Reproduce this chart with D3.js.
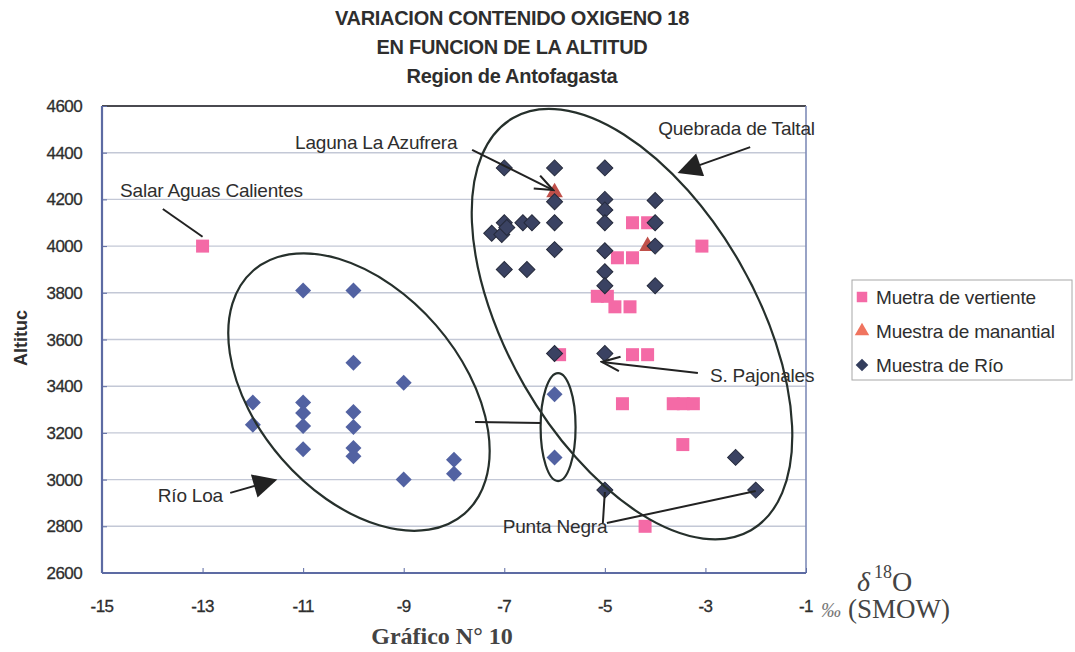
<!DOCTYPE html>
<html>
<head>
<meta charset="utf-8">
<script src="https://cdn.jsdelivr.net/npm/d3@7"></script>
<style>
  body { margin: 0; background: #fff; }
  svg { display: block; }
  text { font-family: "Liberation Sans", Arial, sans-serif; fill: #2e2e2e; }
  .serif { font-family: "Liberation Serif", "Times New Roman", serif; }
  .tick-label { stroke: #2e2e2e; stroke-width: 0.3px; }
</style>
</head>
<body>
<div id="chart"></div>
<script>
'use strict';

// tick values
var xTicks = [-15, -13, -11, -9, -7, -5, -3, -1];
var yTicks = [2600, 2800, 3000, 3200, 3400, 3600, 3800, 4000, 4200, 4400, 4600];

// series: [delta18O, altitud]
var vertiente = [
    [-13, 4000], [-4.45, 4100], [-4.15, 4100], [-3.07, 4000],
    [-4.75, 3950], [-4.45, 3950], [-5.15, 3785], [-4.95, 3785],
    [-4.8, 3740], [-4.5, 3740], [-5.9, 3535], [-4.45, 3535], [-4.15, 3535],
    [-4.65, 3325], [-3.64, 3325], [-3.44, 3325], [-3.24, 3325],
    [-3.45, 3150], [-4.2, 2800]
];
var manantial = [[-6, 4230], [-4.15, 4000]];
var rio = [
    [-7, 4335], [-6, 4335], [-5, 4335],
    [-6, 4190], [-5, 4200], [-5, 4155], [-5, 4100],
    [-4, 4195], [-4, 4100], [-4, 4000], [-4, 3830],
    [-7, 4100], [-7.25, 4055], [-7.05, 4050], [-6.95, 4080],
    [-6.63, 4100], [-6.45, 4100], [-6, 4100],
    [-6, 3985], [-5, 3980], [-5, 3890], [-5, 3830],
    [-7, 3900], [-6.55, 3900], [-6, 3540], [-5, 3540],
    [-2.4, 3095], [-2, 2955], [-5, 2955]
];
var rioLoa = [
    [-11, 3810], [-10, 3810], [-10, 3500], [-9, 3415],
    [-12, 3330], [-12, 3235], [-11, 3330], [-11, 3285], [-11, 3230], [-11, 3130],
    [-10, 3290], [-10, 3225], [-10, 3135], [-10, 3100],
    [-9, 3000], [-8, 3085], [-8, 3025], [-6, 3365], [-6, 3095]
];

// annotations (data coordinates)
var labels = [
    {text: "Salar Aguas Calientes", x: -14.64, y: 4210},
    {text: "Laguna La Azufrera", x: -11.16, y: 4416},
    {text: "Quebrada de Taltal", x: -3.94, y: 4476},
    {text: "Río Loa", x: -13.89, y: 2904},
    {text: "S. Pajonales", x: -2.91, y: 3418},
    {text: "Punta Negra", x: -7.03, y: 2771}
];
var pointers = [
    {from: [-13.79, 4159], to: [-13.0, 4040], head: "none"},
    {from: [-7.64, 4412], to: [-6.03, 4240], head: "open"},
    {from: [-2.11, 4424], to: [-3.51, 4317], head: "solid"},
    {from: [-12.45, 2943], to: [-11.56, 2998], head: "solid"},
    {from: [-3.15, 3457], to: [-5.06, 3504], head: "open"},
    {from: [-5.04, 2814], to: [-5.0, 2947], head: "none"},
    {from: [-4.96, 2814], to: [-2.0, 2951], head: "none"},
    {from: [-7.58, 3247], to: [-6.27, 3242], head: "none"}
];
var ellipses = [
    {cx: -9.89, cy: 3375, rx: 161, ry: 102, angle: 49},
    {cx: -4.46, cy: 3666, rx: 238, ry: 124, angle: 60},
    {cx: -5.93, cy: 3225, rx: 17.5, ry: 54, angle: 0}
];

var legendItems = [
    {name: "Muetra de vertiente", type: "square", color: "#f46aa6"},
    {name: "Muestra de manantial", type: "triangle", color: "#f0745f"},
    {name: "Muestra de Río", type: "diamond", color: "#333d5c"}
];

var W = 1075, H = 652;
var plot = {left: 102, right: 806, top: 106, bottom: 573};

var svg = d3.select("#chart").append("svg")
    .attr("width", W)
    .attr("height", H);

var defs = svg.append("defs");
defs.append("marker")
    .attr("id", "solidHead")
    .attr("viewBox", "0 0 10 10")
    .attr("refX", 9).attr("refY", 5)
    .attr("markerWidth", 26).attr("markerHeight", 24)
    .attr("markerUnits", "userSpaceOnUse")
    .attr("orient", "auto")
    .append("path").attr("d", "M0,0 L10,5 L0,10 Z").attr("fill", "#222");
defs.append("marker")
    .attr("id", "openHead")
    .attr("viewBox", "0 0 10 10")
    .attr("refX", 10).attr("refY", 5)
    .attr("markerWidth", 22).attr("markerHeight", 18)
    .attr("markerUnits", "userSpaceOnUse")
    .attr("orient", "auto")
    .append("path").attr("d", "M0,1 L10,5 L0,9").attr("fill", "none")
    .attr("stroke", "#222").attr("stroke-width", 1.2);

var x = d3.scaleLinear().domain([-15, -1]).range([plot.left, plot.right]);
var y = d3.scaleLinear().domain([2600, 4600]).range([plot.bottom, plot.top]);

// title
var title = ["VARIACION CONTENIDO OXIGENO 18", "EN FUNCION DE LA ALTITUD", "Region de Antofagasta"];
svg.append("g").selectAll("text").data(title).enter().append("text")
    .attr("x", 512)
    .attr("y", function(d, i) { return 25 + i * 29; })
    .attr("text-anchor", "middle")
    .style("font-size", "20px")
    .style("font-weight", "bold")
    .style("letter-spacing", "-0.3px")
    .text(function(d) { return d; });

// gridlines
svg.append("g").selectAll("line").data(yTicks.slice(1, -1)).enter().append("line")
    .attr("x1", plot.left).attr("x2", plot.right)
    .attr("y1", function(d) { return y(d); })
    .attr("y2", function(d) { return y(d); })
    .attr("stroke", "#c3c8d6")
    .attr("stroke-width", 1.4);

// plot border
svg.append("line").attr("x1", plot.left).attr("x2", plot.right)
    .attr("y1", plot.top).attr("y2", plot.top)
    .attr("stroke", "#4a4a50").attr("stroke-width", 2);
svg.append("line").attr("x1", plot.right).attr("x2", plot.right)
    .attr("y1", plot.top).attr("y2", plot.bottom)
    .attr("stroke", "#7f8cb8").attr("stroke-width", 1.6);
svg.append("line").attr("x1", plot.left).attr("x2", plot.left)
    .attr("y1", plot.top).attr("y2", plot.bottom)
    .attr("stroke", "#5d6ba3").attr("stroke-width", 2.2);
svg.append("line").attr("x1", plot.left).attr("x2", plot.right)
    .attr("y1", plot.bottom).attr("y2", plot.bottom)
    .attr("stroke", "#5d6ba3").attr("stroke-width", 2.2);

// axes (small inside ticks, labels drawn separately)
var yAxis = svg.append("g")
    .attr("transform", "translate(" + plot.left + ",0)")
    .call(d3.axisRight(y).tickValues(yTicks).tickSize(5).tickFormat(""));
yAxis.select(".domain").remove();
yAxis.selectAll("line").attr("stroke", "#5d6ba3");
svg.append("g").selectAll("text").data(yTicks).enter().append("text")
    .attr("class", "tick-label")
    .attr("x", 82)
    .attr("y", function(d) { return y(d) + 6; })
    .attr("text-anchor", "end")
    .style("font-size", "17px")
    .style("letter-spacing", "-0.6px")
    .text(function(d) { return d; });

var xAxis = svg.append("g")
    .attr("transform", "translate(0," + plot.bottom + ")")
    .call(d3.axisTop(x).tickValues(xTicks).tickSize(5).tickFormat(""));
xAxis.select(".domain").remove();
xAxis.selectAll("line").attr("stroke", "#5d6ba3");
svg.append("g").selectAll("text").data(xTicks).enter().append("text")
    .attr("class", "tick-label")
    .attr("x", function(d) { return x(d); })
    .attr("y", 612)
    .attr("text-anchor", "middle")
    .style("font-size", "17px")
    .style("letter-spacing", "-0.6px")
    .text(function(d) { return d; });

// unit label next to -1
svg.append("text").attr("class", "serif")
    .attr("x", 821).attr("y", 617)
    .style("font-size", "20px").style("font-style", "italic").style("fill", "#777")
    .text("‰");
svg.append("text").attr("class", "serif")
    .attr("x", 848).attr("y", 618)
    .style("font-size", "27px").style("fill", "#444")
    .text("(SMOW)");
var delta = svg.append("text").attr("class", "serif")
    .attr("x", 857).attr("y", 591)
    .style("font-size", "28px").style("fill", "#444");
delta.append("tspan").style("font-style", "italic").text("δ");
delta.append("tspan").attr("dx", 4).attr("dy", -13).style("font-size", "18px").text("18");
delta.append("tspan").attr("dy", 13).text("O");

svg.append("text").attr("class", "serif")
    .attr("x", 442).attr("y", 644)
    .attr("text-anchor", "middle")
    .style("font-size", "24px").style("font-weight", "bold").style("fill", "#444")
    .text("Gráfico N° 10");

svg.append("text")
    .attr("transform", "translate(27,338) rotate(-90)")
    .attr("text-anchor", "middle")
    .style("font-size", "18px").style("font-weight", "bold")
    .text("Altituc");

// markers
var squareSym = d3.symbol().type(d3.symbolSquare).size(169);
var diamondSym = d3.symbol().type(d3.symbolSquare).size(128);
var triSym = d3.symbol().type(d3.symbolTriangle).size(120);

svg.append("g").selectAll("path").data(vertiente).enter().append("path")
    .attr("d", squareSym)
    .attr("transform", function(d) { return "translate(" + x(d[0]) + "," + y(d[1]) + ")"; })
    .attr("fill", "#f46aa6");

svg.append("g").selectAll("path").data(manantial).enter().append("path")
    .attr("d", triSym)
    .attr("transform", function(d) { return "translate(" + x(d[0]) + "," + y(d[1]) + ")"; })
    .attr("fill", "#c0504a");

svg.append("g").selectAll("path").data(rio).enter().append("path")
    .attr("d", diamondSym)
    .attr("transform", function(d) { return "translate(" + x(d[0]) + "," + y(d[1]) + ") rotate(45)"; })
    .attr("fill", "#3a4262")
    .attr("stroke", "#262b3c")
    .attr("stroke-width", 1);

svg.append("g").selectAll("path").data(rioLoa).enter().append("path")
    .attr("d", diamondSym)
    .attr("transform", function(d) { return "translate(" + x(d[0]) + "," + y(d[1]) + ") rotate(45)"; })
    .attr("fill", "#5262a2");

// ellipses
svg.append("g").selectAll("ellipse").data(ellipses).enter().append("ellipse")
    .attr("transform", function(d) { return "translate(" + x(d.cx) + "," + y(d.cy) + ") rotate(" + d.angle + ")"; })
    .attr("rx", function(d) { return d.rx; })
    .attr("ry", function(d) { return d.ry; })
    .attr("fill", "none")
    .attr("stroke", "#26302c")
    .attr("stroke-width", 2.2);

// pointer lines
svg.append("g").selectAll("line").data(pointers).enter().append("line")
    .attr("x1", function(d) { return x(d.from[0]); })
    .attr("y1", function(d) { return y(d.from[1]); })
    .attr("x2", function(d) { return x(d.to[0]); })
    .attr("y2", function(d) { return y(d.to[1]); })
    .attr("stroke", "#222")
    .attr("stroke-width", 2)
    .attr("marker-end", function(d) {
        if (d.head === "solid") return "url(#solidHead)";
        if (d.head === "open") return "url(#openHead)";
        return null;
    });

// annotation texts
svg.append("g").selectAll("text").data(labels).enter().append("text")
    .attr("x", function(d) { return x(d.x); })
    .attr("y", function(d) { return y(d.y); })
    .style("font-size", "19px")
    .style("letter-spacing", "-0.2px")
    .text(function(d) { return d.text; });

// legend
var legend = svg.append("g").attr("transform", "translate(852,280)");
legend.append("rect")
    .attr("width", 220).attr("height", 100)
    .attr("fill", "#fff")
    .attr("stroke", "#a8a8a8");
var li = legend.selectAll("g.item").data(legendItems).enter().append("g")
    .attr("class", "item")
    .attr("transform", function(d, i) { return "translate(0," + (17 + i * 34) + ")"; });
li.append("path")
    .attr("d", function(d) {
        if (d.type === "square") return d3.symbol().type(d3.symbolSquare).size(110)();
        if (d.type === "triangle") return d3.symbol().type(d3.symbolTriangle).size(90)();
        return d3.symbol().type(d3.symbolSquare).size(80)();
    })
    .attr("transform", function(d) { return "translate(10,0)" + (d.type === "diamond" ? " rotate(45)" : ""); })
    .attr("fill", function(d) { return d.color; });
li.append("text")
    .attr("x", 24).attr("y", 7)
    .style("font-size", "19px")
    .style("letter-spacing", "-0.2px")
    .text(function(d) { return d.name; });
</script>
</body>
</html>
